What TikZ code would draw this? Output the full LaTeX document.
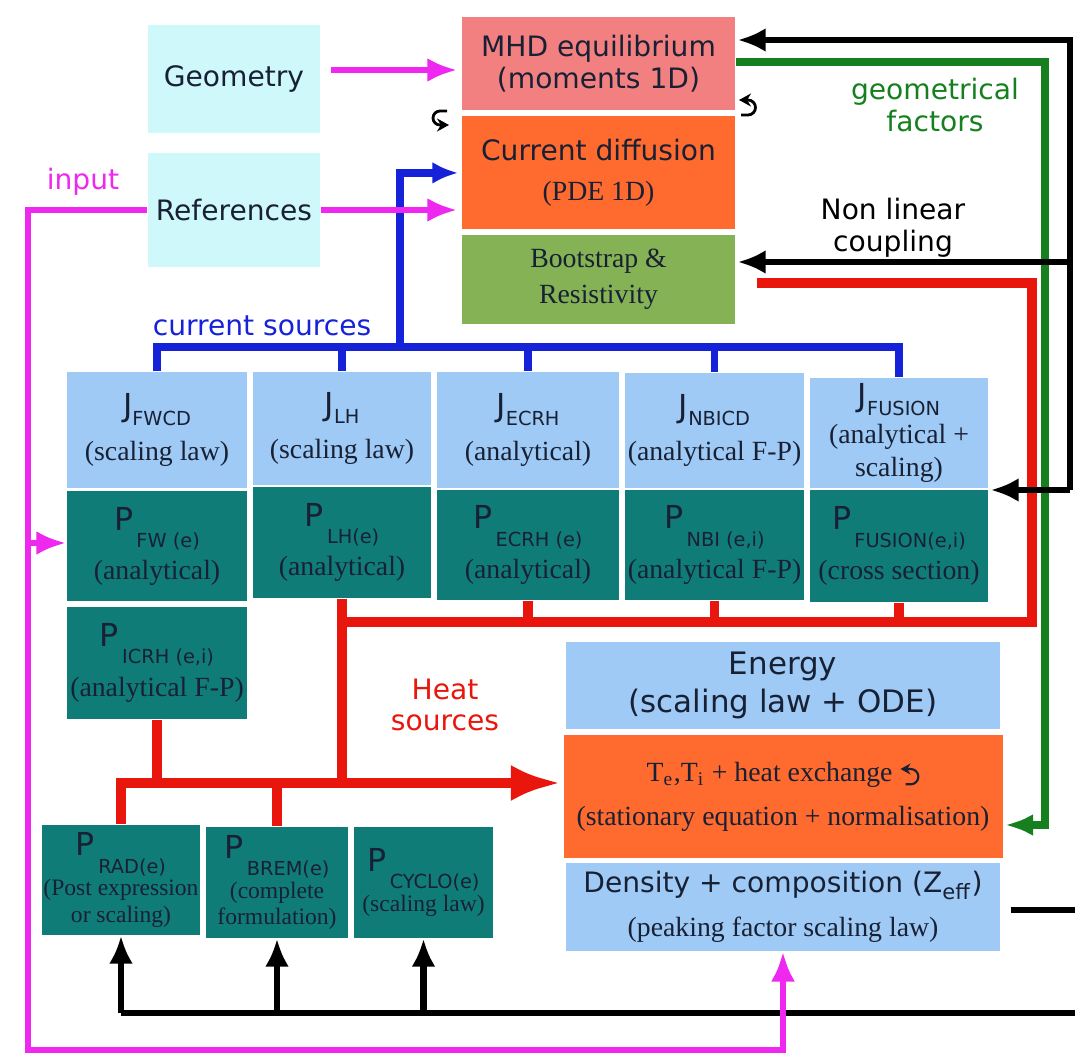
\documentclass[tikz,border=0pt]{standalone}
\usepackage{fontspec}
\usepackage{tikz}
\usetikzlibrary{arrows.meta,positioning}
\setmainfont{Liberation Serif}
\newfontfamily\dejavu{DejaVu Sans}
\definecolor{myCyan}{RGB}{206,248,250}
\definecolor{mySalmon}{RGB}{242,128,128}
\definecolor{myOrange}{RGB}{255,106,46}
\definecolor{myGreen}{RGB}{132,178,84}
\definecolor{myLightBlue}{RGB}{158,202,245}
\definecolor{myTeal}{RGB}{16,124,120}
\definecolor{myMagenta}{RGB}{238,40,238}
\definecolor{myBlue}{RGB}{22,34,215}
\definecolor{myRed}{RGB}{232,22,12}
\definecolor{myDarkGreen}{RGB}{22,128,30}
\definecolor{myInk}{RGB}{24,32,52}

\newcommand{\sanstext}{\dejavu\fontsize{8}{9}\selectfont}
\newcommand{\sertext}{\fontsize{7.9}{9.4}\selectfont}
\newcommand{\smallser}{\fontsize{6.7}{7.6}\selectfont}
\newcommand{\Jsub}[1]{{\dejavu\fontsize{9}{10}\selectfont J\raisebox{-0.5ex}{\fontsize{5.5}{6}\selectfont #1}}}
\newcommand{\Psub}[1]{{\dejavu\fontsize{9}{10}\selectfont P\raisebox{-1ex}{\fontsize{5.5}{6}\selectfont\,#1}}}
\newcommand{\uturn}{\tikz[baseline=-0.4ex]\draw[line width=0.6pt,-{Stealth[length=1mm,width=1.1mm]}] (-0.3ex,-0.6ex) -- (0.1ex,-0.6ex) arc[start angle=-90,end angle=90,radius=0.6ex] -- (-0.7ex,0.6ex);}

\begin{document}
\begin{tikzpicture}[x=0.1mm,y=-0.1mm,
  box/.style={inner sep=0pt, align=center, text=myInk},
  cyanbox/.style={box, fill=myCyan, minimum width=17.2mm, font=\sanstext},
  topbox/.style={box, minimum width=27.3mm, font=\sertext},
  jbox/.style={box, fill=myLightBlue, font=\sertext},
  pbox/.style={box, fill=myTeal, font=\sertext},
  rbox/.style={box, fill=myTeal, font=\smallser},
  wide/.style={box, minimum width=43.4mm, font=\sertext},
  pinkline/.style={myMagenta, line width=1.8pt},
  pinkarrow/.style={pinkline, -{Latex[length=3mm,width=2.4mm]}},
  blueline/.style={myBlue, line width=2.2pt},
  bluearrow/.style={blueline, -{Latex[length=2.6mm,width=2.2mm]}},
  redline/.style={myRed, line width=2.8pt},
  redarrow/.style={redline, -{Latex[length=5mm,width=3.6mm]}},
  greenarrow/.style={myDarkGreen, line width=2pt, -{Latex[length=2.8mm,width=2.2mm]}},
  blackline/.style={black, line width=1.8pt},
  blackarrow/.style={blackline, -{Latex[length=2.8mm,width=2.4mm]}},
  loopsym/.style={line width=0.8pt, -{Stealth[length=1.2mm,width=1.3mm]}}]

\fill[white] (0,0) rectangle (1075,1064);
\useasboundingbox (0,0) rectangle (1075,1064);

% inputs
\node[cyanbox, minimum height=10.8mm] (geo) at (234,79) {Geometry};
\node[cyanbox, minimum height=11.4mm] (ref) at (234,210) {References};

% MHD and current diffusion column
\node[topbox, fill=mySalmon, minimum height=9.3mm, font=\sanstext] (mhd) at (598.5,63.5) {MHD equilibrium\\(moments 1D)};
\node[topbox, fill=myOrange, minimum height=11.3mm] (cur) [below=0.5mm of mhd] {{\sanstext Current diffusion}\\[2pt](PDE 1D)};
\node[topbox, fill=myGreen, minimum height=8.9mm] (boot) [below=0.4mm of cur] {Bootstrap \&\\[1pt]Resistivity};

% current sources
\node[jbox, minimum width=18mm, minimum height=11.6mm] (jfw) at (157,430) {\Jsub{FWCD}\\[3pt](scaling law)};
\node[jbox, minimum width=17.8mm, minimum height=11.3mm] (jlh) at (342,428.5) {\Jsub{LH}\\[3pt](scaling law)};
\node[jbox, minimum width=18.2mm, minimum height=11.6mm] (jec) at (528,430) {\Jsub{ECRH}\\[3pt](analytical)};
\node[jbox, minimum width=17.9mm, minimum height=11.5mm] (jnb) at (714.5,430.5) {\Jsub{NBICD}\\[3pt](analytical F-P)};
\node[jbox, minimum width=17.8mm, minimum height=11mm] (jfus) at (899,433) {\Jsub{FUSION}\\[1pt](analytical +\\scaling)};

% heat sources
\node[pbox, minimum width=18mm, minimum height=11mm] (pfw) [below=0.2mm of jfw] {\Psub{FW (e)}\\[2pt](analytical)};
\node[pbox, minimum width=17.8mm, minimum height=11.1mm] (plh) at (342,542.5) {\Psub{LH(e)}\\[2pt](analytical)};
\node[pbox, minimum width=18.2mm, minimum height=11mm] (pec) at (528,545) {\Psub{ECRH (e)}\\[2pt](analytical)};
\node[pbox, minimum width=17.9mm, minimum height=11mm] (pnb) at (714.5,545) {\Psub{NBI (e,i)}\\[2pt](analytical F-P)};
\node[pbox, minimum width=17.8mm, minimum height=11.2mm] (pfus) at (899,546) {\Psub{FUSION(e,i)}\\[2pt](cross section)};
\node[pbox, minimum width=18mm, minimum height=11.2mm] (picrh) [below=0.4mm of pfw] {\Psub{ICRH (e,i)}\\[2pt](analytical F-P)};

% losses
\node[rbox, minimum width=15.8mm, minimum height=11mm] (prad) at (121,880) {\Psub{RAD(e)}\\(Post expression\\or scaling)};
\node[rbox, minimum width=14.2mm, minimum height=11.1mm] (pbrem) at (277,882.5) {\Psub{BREM(e)}\\(complete\\formulation)};
\node[rbox, minimum width=13.9mm, minimum height=11.1mm] (pcyc) at (423.5,882.5) {\Psub{CYCLO(e)}\\(scaling law)};

% transport column
\node[wide, fill=myLightBlue, minimum height=8.7mm, font=\dejavu\fontsize{8.8}{10.6}\selectfont] (energy) at (783,685.5) {Energy\\(scaling law + ODE)};
\node[wide, fill=myOrange, minimum width=43.9mm, minimum height=12.3mm] (te) [below=0.5mm of energy] {T\textsubscript{e},T\textsubscript{i} + heat exchange \uturn\\[3pt](stationary equation + normalisation)};
\node[wide, fill=myLightBlue, minimum height=8.8mm] (dens) [below=0.3mm of te] {{\sanstext Density + composition (Z\textsubscript{eff})}\\[3pt](peaking factor scaling law)};

% labels
\node[font=\sanstext, text=myMagenta] (inp) at (83,182) {input};
\node[font=\sanstext, text=myDarkGreen, align=center] (geomf) at (935,105) {geometrical\\factors};
\node[font=\sanstext, align=center] (nonlin) at (893,228) {Non linear\\coupling};
\node[font=\sanstext, text=myBlue] (cursrc) at (262,326) {current sources};
\node[font=\sanstext, text=myRed, align=center] (heatsrc) at (445,705) {Heat\\sources};

% self loops
\draw[loopsym] (447,111) -- (440,111) arc[start angle=90, end angle=270, radius=0.7mm] -- (449,125);
\draw[loopsym] (741,115) -- (748,115) arc[start angle=-90, end angle=90, radius=0.75mm] -- (739,100);

\coordinate (geoy) at (0,70);
\coordinate (cbus) at (400,347);
\coordinate (rst) at (757,283);
\coordinate (rcor) at (1032,283);
\coordinate (hbus) at (342,622);
\coordinate (hjoin) at (342,783);
\coordinate (gcor) at (1045,62);
\coordinate (gend) at (1045,825);
\coordinate (ktop) at (1070,40);
\coordinate (kmid) at (1070,262);
\coordinate (kbot) at (1070,490);
\coordinate (kdens) at (1075,910);
\coordinate (kfoot) at (1075,1013);
\coordinate (inL) at (28,1050);
\coordinate (inB) at (28,543);

% current sources
\draw[blueline] (jfw.north) |- (cbus) -| (jfus.north);
\draw[blueline] (jlh.north) -- (jlh.north |- cbus);
\draw[blueline] (jec.north) -- (jec.north |- cbus);
\draw[blueline] (jnb.north) -- (jnb.north |- cbus);
\draw[bluearrow, shorten >=0.3mm] (cbus) |- (cur.west);

% heat sources
\draw[redline] (rst) -- (rcor) |- (hbus);
\draw[redline] (plh.south) -- (hbus) -- (hjoin);
\draw[redline] (pec.south) -- (pec.south |- hbus);
\draw[redline] (pnb.south) -- (pnb.south |- hbus);
\draw[redline] (pfus.south) -- (pfus.south |- hbus);
\draw[redline] (picrh.south) -- (picrh.south |- hjoin);
\draw[redline] (pbrem.north) -- (pbrem.north |- hjoin);
\draw[redarrow, shorten >=0.2mm] (prad.north) |- (te.west |- hjoin);

% geometrical factors
\draw[greenarrow, shorten >=0.2mm] (mhd.east |- gcor) -- (gcor) -- (gend) -- (gend -| te.east);

% non linear coupling
\draw[blackarrow, shorten >=0.2mm] (kbot) -- (ktop) -- (ktop -| mhd.east);
\draw[blackarrow, shorten >=0.2mm] (kmid) -- (kmid -| boot.east);
\draw[blackarrow, shorten >=0.2mm] (kbot) -- (kbot -| jfus.east);
\draw[blackline, shorten <=1mm] (dens.east |- kdens) -- (kdens);
\draw[blackline] (kfoot) -- (kfoot -| prad.south);
\draw[blackarrow] (kfoot -| prad.south) -- (prad.south);
\draw[blackarrow] (kfoot -| pbrem.south) -- (pbrem.south);
\draw[blackarrow] (kfoot -| pcyc.south) -- (pcyc.south);

% input
\draw[pinkarrow, shorten <=1mm, shorten >=0.4mm] (geo.east |- geoy) -- (mhd.west |- geoy);
\draw[pinkarrow, shorten >=0.4mm] (ref.east) -- (ref.east -| cur.west);
\draw[pinkarrow] (ref.west) -| (inL) -| (dens.south);
\draw[pinkarrow] (inB) -- (inB -| pfw.west);
\end{tikzpicture}
\end{document}
